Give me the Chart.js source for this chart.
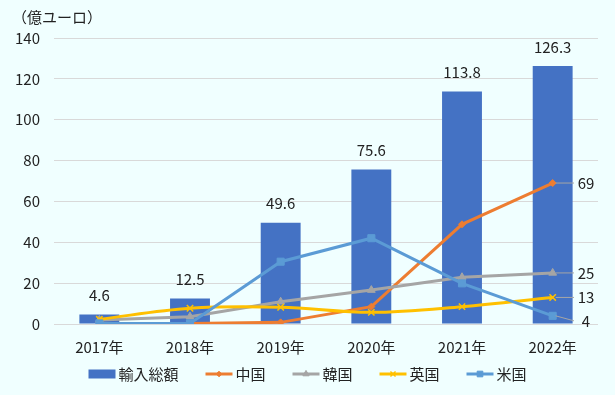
<!DOCTYPE html>
<html>
<head>
<meta charset="utf-8">
<script src="https://cdn.jsdelivr.net/npm/chart.js@4.4.0/dist/chart.umd.min.js"></script>
<style>
  html, body { margin: 0; padding: 0; background: #F0FFFF; }
</style>
</head>
<body>
<canvas id="importChart" width="615" height="395"></canvas>
<script>
const years = ['2017年', '2018年', '2019年', '2020年', '2021年', '2022年'];
const totalImports = [4.6, 12.5, 49.6, 75.6, 113.8, 126.3];
const china = [null, 0.2, 0.8, 8.5, 48.8, 69];
const korea = [2.0, 3.6, 10.9, 16.6, 22.9, 25];
const uk = [2.3, 7.7, 8.2, 5.7, 8.5, 13];
const us = [0.3, 0.3, 30.5, 42, 19.9, 4];
const seriesNames = ['輸入総額', '中国', '韓国', '英国', '米国'];
const unitLabel = '（億ユーロ）';

const FONT = "'Noto Sans CJK JP', 'Noto Sans', sans-serif";
const TEXT_COLOR = '#222222';
const colors = ['#4472C4', '#ED7D31', '#A5A5A5', '#FFC000', '#5B9BD5'];
const markers = [null, 'rectRot', 'triangle', 'crossRot', 'rect'];
const markerSizes = [0, 3.5, 4.5, 4.5, 5];

function lineSet(idx, data, order, tension) {
    return {
        type: 'line',
        label: seriesNames[idx],
        data: data,
        borderColor: colors[idx],
        backgroundColor: colors[idx],
        borderWidth: 3,
        pointStyle: markers[idx],
        pointRadius: markerSizes[idx],
        pointBackgroundColor: colors[idx],
        pointBorderColor: colors[idx],
        pointBorderWidth: idx === 3 ? 1.5 : 1,
        tension: tension,
        fill: false,
        order: order
    };
}

const extras = {
    id: 'extras',
    beforeDraw(chart) {
        const ctx = chart.ctx;
        ctx.save();
        ctx.fillStyle = '#F0FFFF';
        ctx.fillRect(0, 0, chart.width, chart.height);
        ctx.restore();
    },
    afterDatasetsDraw(chart) {
        const ctx = chart.ctx;
        const area = chart.chartArea;
        ctx.save();
        ctx.font = '15px ' + FONT;
        ctx.fillStyle = TEXT_COLOR;
        ctx.textAlign = 'center';
        ctx.textBaseline = 'middle';

        // bar value labels
        chart.getDatasetMeta(0).data.forEach((bar, i) => {
            ctx.fillText(totalImports[i].toFixed(1), bar.x, bar.y - 19);
        });

        // end-of-line labels with leader lines
        const last = years.length - 1;
        const shift = { 4: 5 };
        [1, 2, 3, 4].forEach(di => {
            const pt = chart.getDatasetMeta(di).data[last];
            const v = chart.data.datasets[di].data[last];
            const lx = area.right - 12;
            const ly = pt.y + (shift[di] || 0);
            ctx.strokeStyle = '#A6A6A6';
            ctx.lineWidth = 1;
            ctx.beginPath();
            ctx.moveTo(pt.x + 3, pt.y);
            ctx.lineTo(lx - 12, ly);
            ctx.stroke();
            ctx.fillStyle = TEXT_COLOR;
            ctx.fillText(String(Math.round(v)), lx, ly);
        });

        // unit label
        ctx.textAlign = 'left';
        ctx.fillText(unitLabel, 12, 17);

        // legend
        const legendY = 374;
        const swatchW = 27;
        let total = 0;
        const widths = seriesNames.map(n => ctx.measureText(n).width);
        widths.forEach((w, i) => { total += swatchW + 3 + w + (i < widths.length - 1 ? 27 : 0); });
        let x = (chart.width - total) / 2;
        seriesNames.forEach((name, i) => {
            if (i === 0) {
                ctx.fillStyle = colors[0];
                ctx.fillRect(x, legendY - 4.5, swatchW, 9);
            } else {
                ctx.strokeStyle = colors[i];
                ctx.lineWidth = 3;
                ctx.beginPath();
                ctx.moveTo(x, legendY);
                ctx.lineTo(x + swatchW, legendY);
                ctx.stroke();
                ctx.fillStyle = colors[i];
                ctx.lineWidth = i === 3 ? 1.5 : 1;
                Chart.helpers.drawPoint(ctx, {
                    pointStyle: markers[i],
                    radius: markerSizes[i] * 0.8,
                    rotation: 0,
                    borderWidth: 1
                }, x + swatchW / 2, legendY);
            }
            ctx.fillStyle = TEXT_COLOR;
            ctx.fillText(name, x + swatchW + 3, legendY);
            x += swatchW + 3 + widths[i] + 27;
        });
        ctx.restore();
    }
};

const ctx = document.getElementById('importChart').getContext('2d');
const importChart = new Chart(ctx, {
    data: {
        labels: years,
        datasets: [
            {
                type: 'bar',
                label: seriesNames[0],
                data: totalImports,
                backgroundColor: colors[0],
                barPercentage: 0.44,
                categoryPercentage: 1,
                order: 10
            },
            lineSet(1, china, 4, 0),
            lineSet(2, korea, 3, 0),
            lineSet(3, uk, 2, 0.35),
            lineSet(4, us, 1, 0)
        ]
    },
    options: {
        responsive: false,
        animation: false,
        layout: {
            padding: { top: 38, right: 17, bottom: 39, left: 0 }
        },
        plugins: {
            legend: { display: false },
            tooltip: { enabled: false }
        },
        scales: {
            x: {
                grid: { display: false, drawTicks: false },
                border: { display: false },
                ticks: { padding: 14, color: TEXT_COLOR, font: { family: FONT, size: 15 } },
                afterFit(s) { s.height = 32; }
            },
            y: {
                min: 0,
                max: 140,
                ticks: { stepSize: 20, padding: 14, color: TEXT_COLOR, font: { family: FONT, size: 15 } },
                grid: { color: '#D9D9D9', drawTicks: false },
                border: { display: false },
                afterFit(s) { s.width = 54; }
            }
        }
    },
    plugins: [extras]
});
</script>
</body>
</html>
